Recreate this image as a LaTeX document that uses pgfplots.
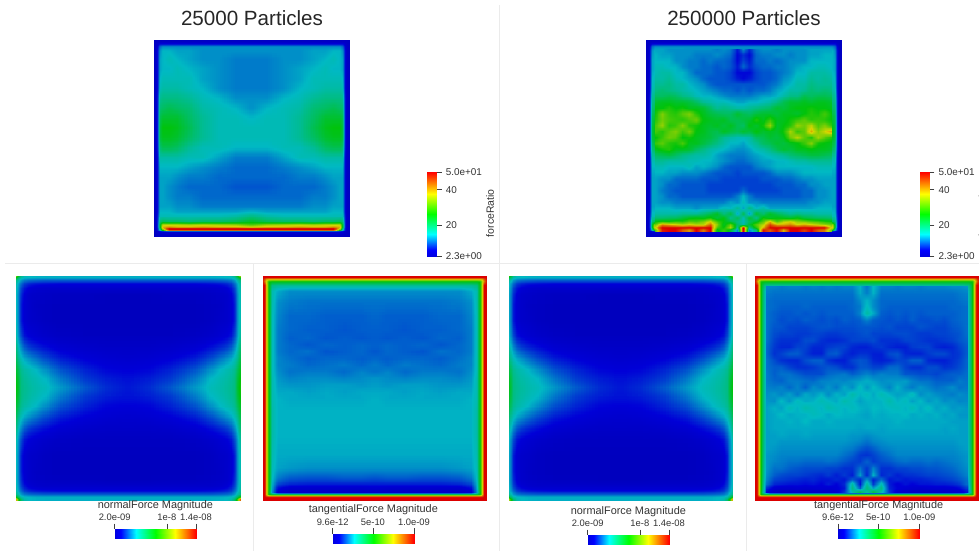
\documentclass[border=0pt]{standalone}
\usepackage{pgfplots}
\usepackage{pgfplotstable}
\usepgfplotslibrary{patchplots}
\usepackage{fontspec}
\setmainfont{Liberation Sans}
\pgfplotsset{compat=1.18}
\pgfplotsset{
 colormap={cmpanel}{rgb255(0pt)=(0,0,190) rgb255(7pt)=(0,0,215) rgb255(27pt)=(0,185,195) rgb255(50pt)=(0,195,10) rgb255(74pt)=(215,215,0) rgb255(100pt)=(220,0,0)},
 colormap={cmbar}{rgb255(0pt)=(0,0,225) rgb255(7pt)=(0,0,255) rgb255(26pt)=(0,255,255) rgb255(50pt)=(0,255,0) rgb255(74pt)=(255,255,0) rgb255(100pt)=(255,0,0)}
}
% normal force, unit 1e-10, one quadrant (the field is mirrored both ways)
\pgfplotstableread[header=has colnames]{
y 0 .012 .025 .04 .06 .09 .13 .2 .3 .4 .5
0 130 90 66 56 53 52 51 51 51 51 51
.012 80 66 56 53 52 51 51 51 51 51 51
.025 62 56 48 44 42 41 40 40 40 40 40
.04 58 50 42 36 33 31 30 29 29 29 29
.06 56 48 37 31 27 25 24 24 24 24 24
.09 55 46 34 27 24 23 22 21 21 20 20
.13 55 46 32 26 24 22 21 20 20 20 20
.2 55 46 32 26 24 23 21 20 20 20 20
.27 58 48 38 31 28 26 24 22 21 21 21
.32 64 54 46 40 36 33 30 26 24 23 23
.37 70 60 54 50 47 43 38 32 28 26 25
.42 76 68 60 57 55 52 47 39 33 29 28
.46 80 72 62 59 57 55 52 44 36 32 30
.5 82 74 62 60 58 56 54 48 40 34 31
}\tNormal
% force ratio, 25000 particles, left half
\pgfplotstableread[header=has colnames]{
y 0 .015 .025 .035 .05 .08 .12 .18 .25 .33 .42 .5
0 3 3 3 3 3 3 3 3 3 3 3 3
.015 3 3 3 3 3 3 3 3 3 3 3 3
.025 3 3 4 6 6 6 6 6 6 6 6 6
.04 3 3 6 11 13 13 13 13 13 13 13 13
.06 3 3 7 13 15 15 14 14 13 13 13 13
.1 3 3 7 14 15 16 15 14 13 13 12 12
.15 3 3 7 14 15 15 16 15 14 13 12 12
.2 3 3 7 15 16 16 16 16 14 13 12 12
.25 3 3 7 16 17 17 17 16 15 13 12 12
.3 3 3 8 18 19 19 19 18 16 15 13 13
.35 3 3 8 20 21 22 21 20 17 16 15 13
.4 3 3 8 22 24 24 24 21 18 16 16 15
.45 3 3 8 23 26 26 25 22 18 16 16 16
.5 3 3 8 23 25 25 24 21 18 16 16 16
.55 3 3 8 20 22 22 21 18 16 16 15 15
.6 3 3 7 17 17 17 17 16 16 14 12 12
.65 3 3 7 15 15 15 15 14 13 12 11 11
.7 3 3 7 14 14 14 13 12 12 11 11 11
.75 3 3 7 14 14 13 12 11 11 11 10 10
.8 3 3 7 14 14 13 12 12 11 11 11 11
.85 3 3 7 14 14 14 13 13 12 12 12 12
.88 3 3 7 15 15 15 14 14 14 14 14 15
.9 3 3 8 16 16 16 16 16 16 16 17 19
.93 3 3 9 20 22 21 21 20 21 21 22 25
.945 3 3 9 24 36 36 36 35 36 35 34 30
.958 3 3 9 24 40 42 40 40 41 40 40 38
.965 3 3 8 20 38 50 50 50 50 50 50 50
.973 3 3 8 16 30 50 50 50 50 50 50 50
.98 3 3 4 5 5 5 5 5 5 5 5 5
1 3 3 3 3 3 3 3 3 3 3 3 3
}\tRatioA
% tangential force, unit 1e-11, 25000 particles, left half
\pgfplotstableread[header=has colnames]{
y 0 .012 .02 .03 .045 .07 .12 .2 .28 .36 .44 .5
0 100 100 100 100 100 100 100 100 100 100 100 100
.012 100 100 100 100 100 100 100 100 100 100 100 100
.02 100 90 80 78 78 78 78 78 78 78 78 78
.03 100 85 70 52 50 50 50 50 50 50 50 50
.045 100 100 75 50 36 34 34 34 34 34 34 34
.07 100 100 75 50 30 26 23 23 23 23 23 23
.12 100 100 75 50 30 23 21 20 20 20 20 20
.18 100 100 75 50 29 22 19 19 18 18 18 19
.24 100 100 75 50 29 21 19 18 18 17 18 18
.28 100 100 75 50 29 21 18 19 17 18 17 18
.31 100 100 75 50 29 21 19 17 19 18 19 18
.34 100 100 75 50 29 21 19 20 17 18 19 17
.37 100 100 75 50 29 22 20 18 19 19 18 19
.4 100 100 75 50 29 22 21 19 20 21 19 21
.43 100 100 75 50 29 23 20 21 21 19 22 20
.46 100 100 75 50 30 24 22 23 23 22 23 24
.49 100 100 75 50 30 25 24 24 25 25 24 25
.52 100 100 75 50 30 26 26 25 26 25 26 26
.55 100 100 75 50 30 27 26 26 26 26 26 27
.6 100 100 75 50 31 27 27 27 27 27 27 27
.7 100 100 75 50 31 27 27 27 27 27 27 27
.8 100 100 75 50 30 26 26 26 26 26 26 26
.86 100 100 75 50 29 25 24 23 23 23 23 23
.9 100 100 75 50 28 21 18 17 17 18 18 17
.93 100 100 75 50 26 15 12 11 11 11 11 11
.95 100 100 75 50 24 8 4 4 4 4 4 5
.968 100 100 75 48 22 5 3 3 3 3 3 3
.977 100 100 75 50 45 45 45 45 45 45 45 45
.984 100 100 90 85 85 85 85 85 85 85 85 85
.99 100 100 100 100 100 100 100 100 100 100 100 100
1 100 100 100 100 100 100 100 100 100 100 100 100
}\tTangA
% force ratio, 250000 particles, interior cells
\pgfplotstableread[header=has colnames]{
y .05 .085 .12 .155 .19 .225 .26 .295 .33 .365 .4 .435 .47 .5 .53 .565 .6 .635 .67 .705 .74 .775 .81 .845 .88 .915 .95
.05 14 14 13 13 13 13 13 13 13 12 13 12 7 13 8 12 13 13 12 13 13 13 13 14 14 14 14
.08 15 14 14 13 13 13 12 12 12 13 12 11 6 8 6 11 12 12 13 13 12 13 13 14 14 15 15
.11 15 15 15 13 13 12 12 11 12 11 11 10 6 9 7 11 11 12 11 12 13 13 13 15 15 15 15
.14 16 16 15 15 13 12 12 11 11 10 11 10 7 11 8 10 11 11 12 12 13 14 15 15 16 16 15
.17 16 17 17 15 15 13 11 11 11 10 10 9 6 6 6 9 10 10 11 12 13 15 15 17 17 17 16
.2 17 17 18 16 15 14 13 11 10 10 10 9 7 6 7 9 10 10 11 13 14 16 16 18 17 18 17
.23 18 18 19 17 17 15 14 13 11 10 10 10 10 10 10 10 10 11 12 14 15 17 17 19 18 18 18
.26 19 20 19 18 17 16 15 14 13 12 11 11 10 11 10 11 11 12 14 15 17 17 18 20 19 20 19
.29 21 21 22 21 19 18 16 15 15 14 13 12 12 12 12 13 14 14 15 17 19 19 22 21 22 22 21
.32 24 25 25 24 24 23 21 18 17 16 16 15 14 14 15 15 16 17 19 22 24 24 25 24 25 25 24
.35 26 26 28 26 27 25 25 24 21 18 19 18 17 17 18 19 20 21 24 23 25 26 26 27 26 26 25
.38 27 33 29 28 31 33 28 25 23 22 21 21 24 22 21 23 24 24 23 25 25 24 26 28 27 30 26
.41 28 32 30 29 28 30 32 26 25 24 25 22 22 23 24 28 25 29 25 25 27 29 31 28 29 28 26
.44 30 34 28 29 33 28 27 25 24 25 23 25 22 21 26 24 27 34 24 26 28 34 32 36 30 33 28
.47 30 28 31 33 29 32 26 25 23 22 25 23 22 24 23 26 24 25 24 27 35 29 31 40 33 37 41
.5 26 29 32 31 26 27 25 24 23 21 18 17 16 16 17 21 22 24 23 25 32 36 31 28 35 31 28
.53 29 31 28 27 30 25 25 23 21 19 17 15 15 14 16 18 21 22 24 23 25 26 29 33 27 26 25
.56 25 27 28 25 25 24 21 19 17 16 15 14 13 13 14 16 17 19 22 24 23 25 25 26 25 25 24
.59 21 22 23 21 19 18 17 17 16 14 13 12 12 12 13 14 15 16 17 18 20 21 22 23 23 22 21
.62 18 18 17 17 17 16 16 15 15 14 13 12 11 11 12 13 14 14 15 15 16 17 17 18 18 18 18
.65 16 16 15 15 15 16 14 15 14 13 11 10 10 10 10 12 13 14 15 15 15 15 15 15 16 16 16
.68 15 15 14 14 13 13 13 12 11 10 10 10 9 10 10 10 10 11 13 13 13 14 15 15 15 15 15
.71 14 13 13 11 11 11 11 10 10 10 9 9 9 9 9 9 10 10 10 11 11 12 13 13 14 14 14
.74 14 13 11 11 10 10 10 10 9 9 9 9 9 9 9 9 9 9 10 10 10 11 11 13 13 14 14
.77 14 12 11 10 10 10 10 10 9 9 9 9 9 11 9 9 9 9 9 10 10 10 11 11 13 13 14
.8 14 13 11 11 10 10 10 10 10 10 10 10 12 15 12 10 10 10 10 10 10 10 11 11 13 13 14
.83 14 13 13 12 12 12 12 12 12 12 12 14 13 16 13 13 12 12 12 12 12 12 12 13 13 14 14
.86 15 15 15 14 14 14 13 14 14 14 16 15 18 14 19 15 17 14 14 14 14 14 14 14 15 15 15
.89 17 17 17 17 18 18 18 20 22 25 19 23 14 22 13 24 20 25 22 20 18 19 18 18 17 17 17
.91 20 20 21 21 23 25 26 25 27 23 26 18 22 16 24 18 27 24 26 25 24 26 23 22 21 21 20
.93 26 28 27 29 28 31 30 33 38 30 26 23 19 16 21 25 31 40 30 36 38 34 33 31 30 28 27
.945 32 42 40 38 36 38 36 36 44 34 24 32 21 17 24 31 36 46 40 40 42 38 40 38 36 34 32
.96 38 50 50 50 50 50 50 50 50 30 26 36 18 50 18 28 40 50 50 50 50 50 50 50 50 50 36
.975 30 48 50 50 44 40 50 42 50 24 30 22 12 50 12 18 50 44 50 38 50 50 46 50 44 42 30
}\tRatioB
% tangential force, unit 1e-11, 250000 particles, interior cells
\pgfplotstableread[header=has colnames]{
y .05 .085 .12 .155 .19 .225 .26 .295 .33 .365 .4 .435 .47 .5 .53 .565 .6 .635 .67 .705 .74 .775 .81 .845 .88 .915 .95
.05 22 22 21 22 22 21 22 21 22 21 22 22 27 20 28 22 22 21 22 22 21 22 22 22 23 23 24
.08 21 20 20 20 20 20 20 20 20 20 20 20 26 21 27 20 20 20 20 20 20 20 20 20 20 21 22
.11 20 19 19 19 19 19 19 19 19 19 19 19 23 27 23 19 19 19 19 19 19 19 19 19 19 20 21
.14 20 19 18 18 18 19 18 18 18 18 18 19 21 29 23 19 18 18 18 18 18 18 18 18 19 19 20
.17 20 18 17 17 18 17 18 17 18 18 18 18 22 32 26 18 17 18 17 18 17 18 18 18 18 19 20
.2 20 18 16 17 16 18 17 16 17 16 18 17 18 22 18 17 16 17 16 18 16 16 17 16 18 19 20
.23 20 17 17 15 15 15 16 17 17 16 16 16 17 17 17 16 17 15 15 15 17 16 15 15 17 18 20
.26 20 16 15 15 14 14 15 15 14 14 15 15 16 17 15 15 15 16 16 15 14 14 15 15 16 17 20
.29 20 15 13 13 13 16 16 13 12 12 13 15 15 15 16 13 13 13 15 15 14 13 13 14 15 17 19
.32 19 14 12 12 15 15 12 12 14 15 15 12 11 11 13 14 12 11 11 14 15 15 12 11 12 15 18
.35 19 13 15 18 18 14 11 11 17 18 13 11 13 13 11 11 16 17 12 11 11 14 16 16 13 14 18
.38 20 16 13 12 12 16 18 18 13 11 11 15 17 16 12 11 12 15 15 18 18 12 11 11 13 15 19
.41 20 18 18 15 13 13 14 16 17 16 13 13 17 17 15 15 19 19 15 13 13 16 16 13 14 16 19
.44 21 18 20 20 18 16 16 16 19 20 21 18 20 22 20 22 21 21 17 17 16 16 15 17 18 18 20
.47 21 19 18 21 21 20 19 22 22 23 22 24 25 27 25 23 24 24 25 22 20 20 18 18 18 21 20
.5 22 21 22 19 22 18 23 21 24 21 26 23 29 24 28 25 22 27 23 21 24 22 20 21 23 20 21
.53 23 24 22 25 21 26 24 27 23 27 25 31 27 29 26 30 27 25 26 29 23 25 23 22 21 23 22
.56 24 23 28 24 29 26 27 30 28 26 31 28 25 27 27 27 31 27 29 25 28 24 26 23 24 22 23
.59 25 27 25 30 27 31 29 27 31 29 27 29 27 26 28 27 28 29 27 30 26 29 25 27 24 25 24
.62 25 26 28 26 27 27 29 28 26 28 27 27 26 25 27 26 27 27 28 26 27 26 27 25 26 24 24
.65 25 26 26 27 26 28 26 26 27 26 26 26 26 26 26 26 26 27 26 26 26 26 26 26 25 25 25
.68 25 26 26 26 26 26 26 26 26 26 26 26 25 26 26 25 26 26 26 26 26 26 26 25 26 25 25
.71 25 25 26 25 25 26 25 25 25 25 25 24 24 23 24 25 25 25 25 25 25 25 25 25 25 25 25
.74 25 25 24 24 24 24 24 24 24 24 24 23 22 20 22 23 24 24 24 24 24 24 24 24 24 25 25
.77 25 24 23 23 23 23 23 23 23 23 22 21 18 16 18 21 22 23 23 23 23 23 23 23 23 24 25
.8 24 23 22 22 22 22 22 22 22 22 20 18 14 13 15 18 20 22 22 22 22 22 22 22 22 23 24
.83 24 22 21 20 20 19 19 19 20 19 17 15 14 19 14 16 17 19 20 19 19 20 19 20 21 22 24
.86 24 20 20 18 17 16 16 16 15 15 13 13 20 13 22 13 13 15 15 16 16 17 17 18 19 21 23
.89 23 18 16 15 15 14 13 12 14 11 14 11 25 11 27 12 14 11 13 13 14 15 15 16 17 19 22
.91 22 15 14 13 12 11 12 10 10 12 10 18 11 25 11 20 10 12 10 11 11 12 13 14 15 17 20
.93 20 12 11 10 10 9 10 8 11 8 12 32 10 34 14 30 11 7 10 8 10 10 11 11 12 14 20
.95 12 5 4 4 5 4 5 6 5 7 10 36 18 38 26 36 12 8 6 5 4 5 5 5 6 8 14
.965 8 3 2 2 3 2 3 3 4 5 14 30 45 30 45 30 14 5 4 3 3 2 3 3 4 5 10
}\tTangB
% turn a wide table (rows y, columns x) into a coordinate list
\newcommand\flatten[3]{%
 \pgfplotstablegetrowsof{#1}\pgfmathtruncatemacro\lastr{\pgfplotsretval-1}%
 \pgfplotstablegetcolsof{#1}\pgfmathtruncatemacro\lastc{\pgfplotsretval-1}%
 \xdef#3{\lastc}%
 \gdef#2{}%
 \foreach \r in {0,...,\lastr}{%
  \pgfplotstablegetelem{\r}{y}\of#1\let\yy\pgfplotsretval
  \foreach \c in {1,...,\lastc}{%
   \pgfplotstablegetcolumnnamebyindex{\c}\of#1\to\xn
   \pgfplotstablegetelem{\r}{[index]\c}\of#1%
   \xdef#2{#2 (\xn,\yy,\pgfplotsretval)}%
  }%
 }%
}
\flatten\tNormal\cNormal\nNormal
\flatten\tRatioA\cRatioA\nRatioA
\flatten\tTangA\cTangA\nTangA
\flatten\tRatioB\cRatioB\nRatioB
\flatten\tTangB\cTangB\nTangB
\newcommand\mesh[4][]{% options, coordinates, columns, unused
 \edef\doplot{\noexpand\addplot3[surf,shader=interp,patch type=bilinear,mesh/cols=#3,#1] coordinates {#2};}\doplot}
\pgfplotsset{
 panel/.style n args={4}{at={(#1pt,-#2pt)},anchor=north west,width=#3pt,height=#4pt,scale only axis,
  xmin=0,xmax=1,ymin=0,ymax=1,y dir=reverse,view={0}{90},hide axis,colormap name=cmpanel},
 hbar/.style n args={4}{at={(#1pt,-#2pt)},anchor=north west,width=81.3pt,height=9.4pt,scale only axis,
  colormap name=cmbar,ymin=0,ymax=1,ytick=\empty,axis line style={draw=none},
  xtick pos=right,xticklabel pos=right,tick align=outside,major tick length=5.6pt,
  tick style={black!75,line width=.6pt},xmin=#3,xmax=#4,point meta min=#3,point meta max=#4,
  xticklabel style={font=\fontsize{9.4}{10}\selectfont,text=black!80,inner sep=0pt,anchor=south,yshift=2.5pt},
  title style={font=\fontsize{10.9}{12}\selectfont,text=black!80,at={(0.5,1)},anchor=center,yshift=18pt,inner sep=0pt}},
 vbar/.style n args={2}{at={(#1pt,-#2pt)},anchor=north west,width=9.4pt,height=84pt,scale only axis,
  colormap name=cmbar,xmin=0,xmax=1,xtick=\empty,axis line style={draw=none},
  ymin=2.3,ymax=50,point meta min=2.3,point meta max=50,
  ytick pos=right,yticklabel pos=right,tick align=outside,major tick length=5pt,
  tick style={black!75,line width=.6pt},ytick={2.3,20,40,50},yticklabels={2.3e+00,20,40,5.0e+01},
  yticklabel style={font=\fontsize{9.9}{10}\selectfont,text=black!80,inner sep=0pt,anchor=west,xshift=4pt},
  ylabel={forceRatio},ylabel style={font=\fontsize{10.5}{11}\selectfont,text=black!80,at={(axis description cs:6.67,0.51)},anchor=center,rotate=0}}
}
\begin{document}
\begin{tikzpicture}[x=1pt,y=1pt]
\useasboundingbox (0,0) rectangle (979,-551);
\draw[black!8,line width=1pt] (499.5,-5)--(499.5,-551) (5,-263.5)--(979,-263.5) (253,-263.5)--(253,-551) (746,-263.5)--(746,-551);
\node[font=\fontsize{20.6}{24}\selectfont,text=black!85] at (252,-18) {25000 Particles};
\node[font=\fontsize{20.6}{24}\selectfont,text=black!85] at (744,-18) {250000 Particles};
% 25000, force ratio
\begin{axis}[panel={153.5}{39.5}{196}{196.5},point meta min=2.3,point meta max=50]
\mesh{\cRatioA}{\nRatioA}{}
\mesh[x filter/.expression={1-x}]{\cRatioA}{\nRatioA}{}
\end{axis}
% 250000, force ratio
\begin{axis}[panel={645.7}{39.5}{196}{196.5},point meta min=2.3,point meta max=50]
\mesh{\cRatioA}{\nRatioA}{}
\mesh[x filter/.expression={1-x}]{\cRatioA}{\nRatioA}{}
\mesh{\cRatioB}{\nRatioB}{}
\end{axis}
% normal force panels
\begin{axis}[panel={16}{275.3}{224}{225},point meta min=20,point meta max=140]
\mesh{\cNormal}{\nNormal}{}
\mesh[x filter/.expression={1-x}]{\cNormal}{\nNormal}{}
\mesh[y filter/.expression={1-y}]{\cNormal}{\nNormal}{}
\mesh[x filter/.expression={1-x},y filter/.expression={1-y}]{\cNormal}{\nNormal}{}
\end{axis}
\begin{axis}[panel={508.3}{275.3}{224.4}{225},point meta min=20,point meta max=140]
\mesh{\cNormal}{\nNormal}{}
\mesh[x filter/.expression={1-x}]{\cNormal}{\nNormal}{}
\mesh[y filter/.expression={1-y}]{\cNormal}{\nNormal}{}
\mesh[x filter/.expression={1-x},y filter/.expression={1-y}]{\cNormal}{\nNormal}{}
\end{axis}
% tangential force panels
\begin{axis}[panel={262.7}{275.3}{224}{225},point meta min=1,point meta max=100]
\mesh{\cTangA}{\nTangA}{}
\mesh[x filter/.expression={1-x}]{\cTangA}{\nTangA}{}
\end{axis}
\begin{axis}[panel={755}{275.3}{224}{225},point meta min=1,point meta max=100]
\mesh{\cTangA}{\nTangA}{}
\mesh[x filter/.expression={1-x}]{\cTangA}{\nTangA}{}
\mesh{\cTangB}{\nTangB}{}
\end{axis}
% colour bars
\begin{axis}[vbar={427.3}{172}]
\addplot[surf,shader=interp,mesh/cols=2,point meta=y] coordinates {(0,2.3)(1,2.3)(0,50)(1,50)};
\end{axis}
\begin{axis}[vbar={920}{172}]
\addplot[surf,shader=interp,mesh/cols=2,point meta=y] coordinates {(0,2.3)(1,2.3)(0,50)(1,50)};
\end{axis}
\begin{axis}[hbar={114.7}{529.3}{20}{140},xtick={20,97,140},xticklabels={2.0e-09,1e-8,1.4e-08},title={normalForce Magnitude}]
\addplot[surf,shader=interp,mesh/cols=2,point meta=x] coordinates {(20,0)(140,0)(20,1)(140,1)};
\end{axis}
\begin{axis}[hbar={332.7}{533.7}{1}{100},xtick={1,50,100},xticklabels={9.6e-12,5e-10,1.0e-09},title={tangentialForce Magnitude}]
\addplot[surf,shader=interp,mesh/cols=2,point meta=x] coordinates {(1,0)(100,0)(1,1)(100,1)};
\end{axis}
\begin{axis}[hbar={587.7}{535.3}{20}{140},xtick={20,97,140},xticklabels={2.0e-09,1e-8,1.4e-08},title={normalForce Magnitude}]
\addplot[surf,shader=interp,mesh/cols=2,point meta=x] coordinates {(20,0)(140,0)(20,1)(140,1)};
\end{axis}
\begin{axis}[hbar={838}{529.3}{1}{100},xtick={1,50,100},xticklabels={9.6e-12,5e-10,1.0e-09},title={tangentialForce Magnitude}]
\addplot[surf,shader=interp,mesh/cols=2,point meta=x] coordinates {(1,0)(100,0)(1,1)(100,1)};
\end{axis}
\end{tikzpicture}
\end{document}
